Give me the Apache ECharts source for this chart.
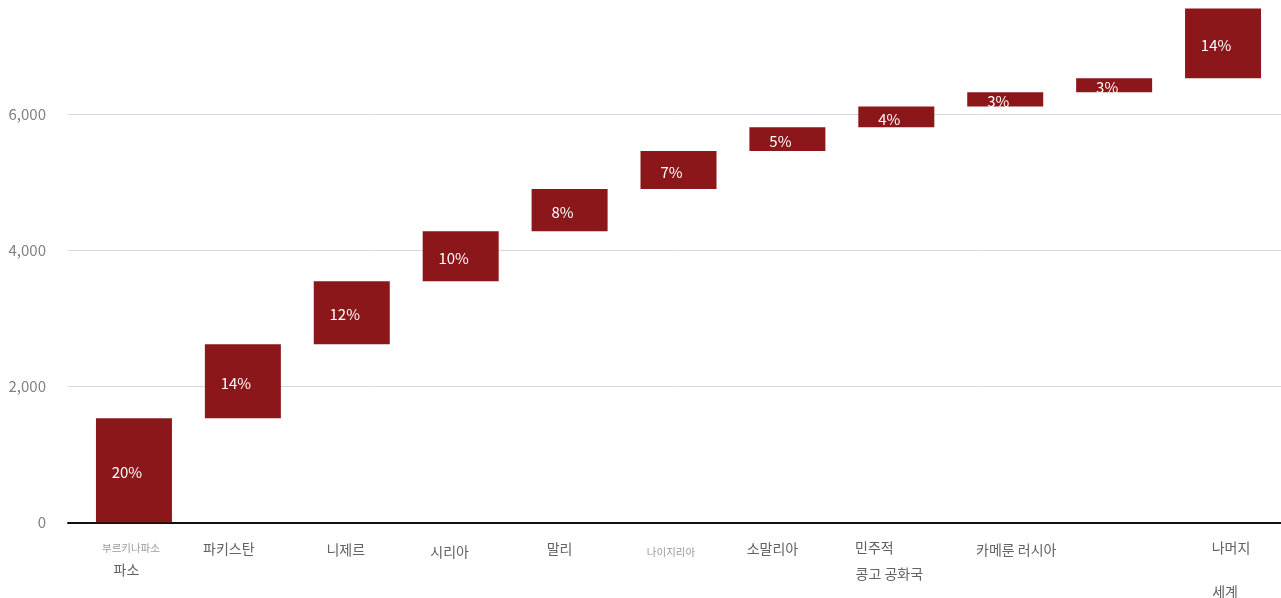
<!DOCTYPE html>
<html>
<head>
<meta charset="utf-8">
<script src="https://cdn.jsdelivr.net/npm/echarts@6/dist/echarts.min.js"></script>
<style>
html,body{margin:0;padding:0;background:#fff;}
#chart{width:1281px;height:598px;}
</style>
</head>
<body>
<div id="chart"></div>
<script>
// ---- data ----
const categories = ['부르키나파소\n파소', '파키스탄', '니제르', '시리아', '말리', '나이지리아', '소말리아', '민주적\n콩고 공화국', '카메룬 러시아', '', '나머지\n세계'];
const increments = [1530, 1090, 925, 735, 620, 560, 350, 305, 210, 205, 1025];
const shareLabels = ['20%', '14%', '12%', '10%', '8%', '7%', '5%', '4%', '3%', '3%', '14%'];
const yMin = 0, yMax = 8000, yStep = 2000;

// ---- label layout (styles only) ----
const MAIN = '#626262', SMALL = '#999999';
const labelLayout = [
  [{d: -3, fs: 10.5, lh: 24, c: SMALL}, {d: -7.5, fs: 14, lh: 18, c: MAIN}],
  [{d: -14, fs: 14, lh: 24, c: MAIN}],
  [{d: -6, fs: 14, lh: 26, c: MAIN}],
  [{d: -11, fs: 14, lh: 30, c: MAIN}],
  [{d: -10, fs: 14, lh: 24, c: MAIN}],
  [{d: -7.5, fs: 10.5, lh: 32, c: SMALL}],
  [{d: -15, fs: 14, lh: 24, c: MAIN}],
  [{d: -22, fs: 14, lh: 22, c: MAIN}, {d: -7, fs: 14, lh: 30, c: MAIN}],
  [{d: 11, fs: 14, lh: 26, c: MAIN}],
  [{d: 0, fs: 14, lh: 24, c: MAIN}],
  [{d: 8, fs: 14, lh: 22, c: MAIN}, {d: 2, fs: 14, lh: 66, c: MAIN}]
];
const rich = {};
labelLayout.forEach((lines, i) => {
  lines.forEach((s, j) => {
    rich['r' + i + '_' + j] = {
      fontSize: s.fs, color: s.c, lineHeight: s.lh, align: 'center',
      padding: [0, s.d < 0 ? -2 * s.d : 0, 0, s.d > 0 ? 2 * s.d : 0]
    };
  });
});

// waterfall base (cumulative start of each bar)
const bases = [];
let acc = 0;
increments.forEach(v => { bases.push(acc); acc += v; });

const FONT = '"Noto Sans CJK KR", "Noto Sans", sans-serif';
const chart = echarts.init(document.getElementById('chart'), null, {renderer: 'canvas'});
chart.setOption({
  animation: false,
  backgroundColor: '#ffffff',
  textStyle: {fontFamily: FONT},
  grid: [
    {left: 68, right: 0, top: -21.7, bottom: 75.7, outerBoundsMode: 'none', containLabel: false},
    {left: 79.5, right: 3.5, top: -21.7, bottom: 75.7, outerBoundsMode: 'none', containLabel: false}
  ],
  xAxis: [
    {
      type: 'category', gridIndex: 0, data: [''],
      axisLine: {show: true, lineStyle: {color: '#111111', width: 2}},
      axisTick: {show: false}, axisLabel: {show: false}
    },
    {
      type: 'category', gridIndex: 1, data: categories,
      axisLine: {show: false}, axisTick: {show: false},
      axisLabel: {
        interval: 0, margin: 14, fontFamily: FONT, fontSize: 14, color: MAIN,
        formatter: (value, index) => value === '' ? '' :
          value.split('\n').map((line, j) => '{r' + index + '_' + j + '|' + line + '}').join('\n'),
        rich: rich
      }
    }
  ],
  yAxis: [
    {
      type: 'value', gridIndex: 0, min: yMin, max: yMax, interval: yStep,
      axisLine: {show: false}, axisTick: {show: false},
      axisLabel: {
        margin: 22, fontSize: 15, color: '#808080', fontFamily: FONT,
        formatter: v => v.toLocaleString('en-US')
      },
      splitLine: {lineStyle: {color: '#d9d9d9', width: 1}}
    },
    {
      type: 'value', gridIndex: 1, min: yMin, max: yMax, interval: yStep,
      show: false, splitLine: {show: false}
    }
  ],
  series: [
    {
      type: 'bar', xAxisIndex: 1, yAxisIndex: 1, stack: 'wf', barWidth: 76,
      itemStyle: {color: 'rgba(0,0,0,0)'}, emphasis: {disabled: true},
      silent: true, data: bases
    },
    {
      type: 'bar', xAxisIndex: 1, yAxisIndex: 1, stack: 'wf', barWidth: 76,
      itemStyle: {color: '#8b171b'},
      label: {
        show: true, position: 'inside', offset: [-7, 2],
        color: '#ffffff', fontSize: 15, fontFamily: FONT,
        formatter: p => shareLabels[p.dataIndex]
      },
      data: increments
    }
  ]
});
</script>
</body>
</html>
